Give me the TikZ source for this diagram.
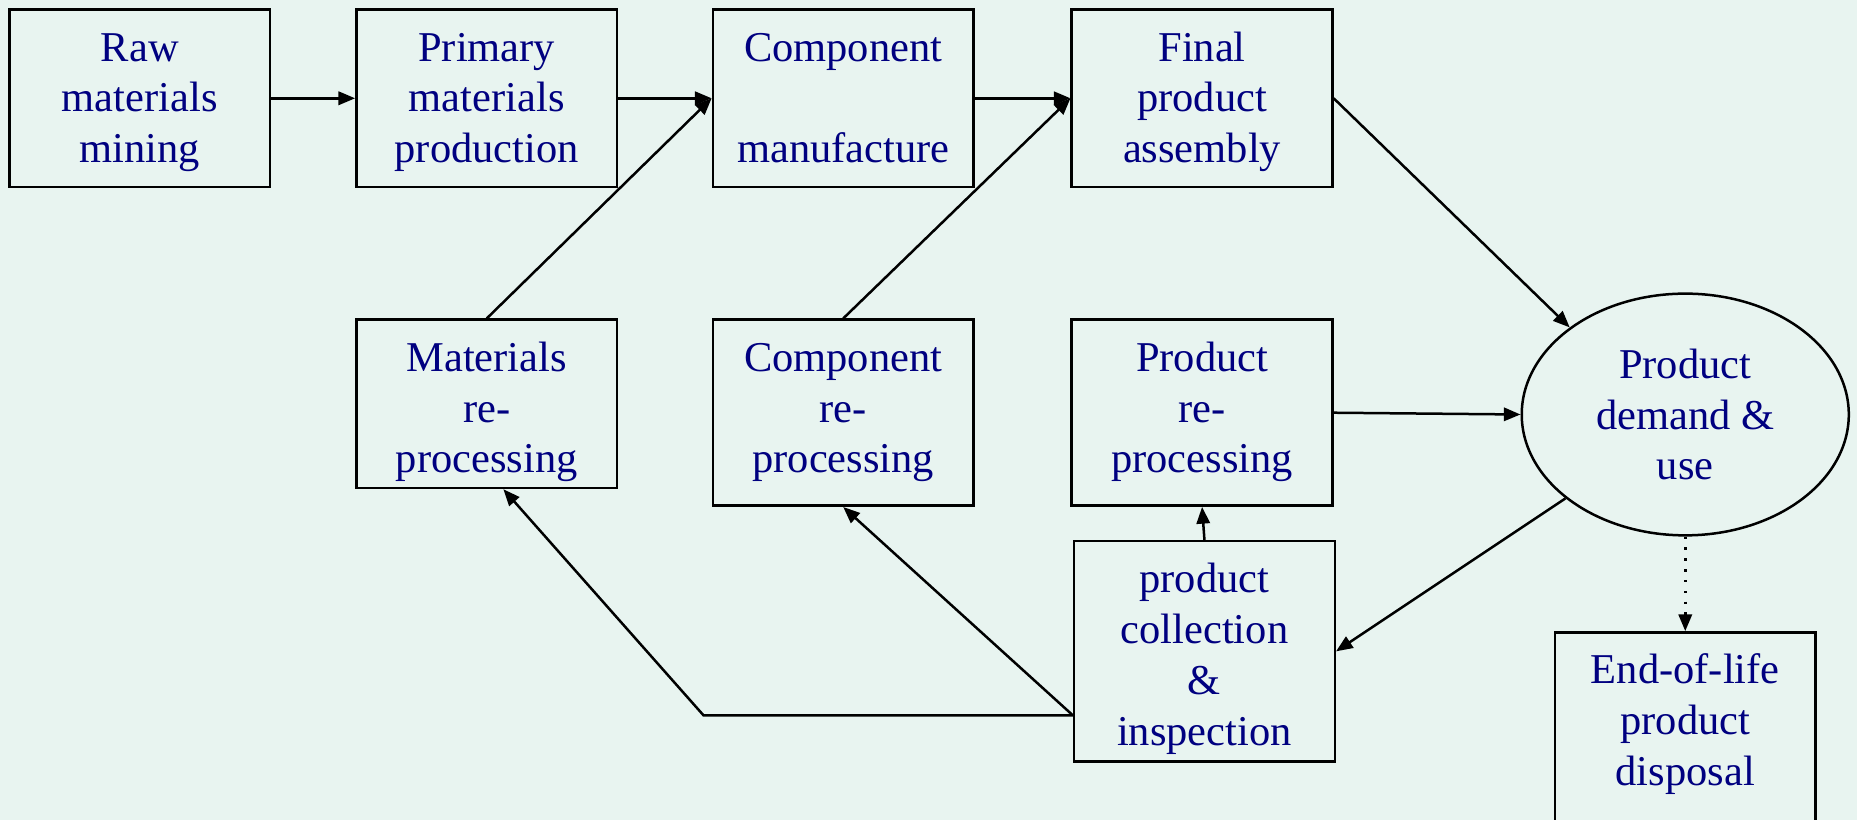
\documentclass[tikz,border=0pt]{standalone}
\usepackage{fontspec}
\setmainfont{Liberation Serif}
\usetikzlibrary{arrows.meta,shapes.geometric}

\definecolor{bgmint}{RGB}{232,244,240}
\definecolor{textnavy}{RGB}{0,0,128}
% text sits at the top of each box
\newcommand{\boxlines}[2]{\parbox[c][#1][t]{2.2cm}{\centering\rule{0pt}{12.4pt}#2}}

\begin{document}
\begin{tikzpicture}[x=0.01cm, y=-0.01cm]
	\useasboundingbox (0,0) rectangle (1568,692);
	\clip (0,0) rectangle (1568,692);
	\fill[bgmint] (0,0) rectangle (1568,692);
	\begin{scope}[every node/.style={rectangle,draw,line width=0.6pt,text=textnavy,align=center,
			minimum width=2.2cm,inner sep=0pt,font=\fontsize{10.2}{12.2}\selectfont}]
		\node (Raw materials) at (118,83) {\boxlines{1.5cm}{Raw\\materials\\mining}};
		\node (Primary materials) at (411,83) {\boxlines{1.5cm}{Primary\\materials\\production}};
		\node (Component manufacture) at (712,83) {\boxlines{1.5cm}{Component\\\mbox{}\\manufacture}};
		\node (Final assembly) at (1015,83) {\boxlines{1.5cm}{Final\\product\\assembly}};
			\node (Materials reprocessing) at (411,341) {\boxlines{1.42cm}{Materials\\re-\\processing}};
			\node (Component reprocessing) at (712,348.5) {\boxlines{1.57cm}{Component\\re-\\processing}};
			\node (Product reprocessing) at (1015,348.5) {\boxlines{1.57cm}{Product\\re-\\processing}};
			\node (Product collection) at (1017,550) {\boxlines{1.86cm}{product\\collection\\\&\\inspection}};
		\node[ellipse,minimum width=2.76cm,minimum height=2.04cm] (Product demand) at (1423,350) {Product\\demand \&\\use};
		\node (End of life) at (1423,616.5) {\boxlines{1.65cm}{End-of-life\\product\\disposal}};
	\end{scope}
	\coordinate (bend) at (594,604);
	\begin{scope}[>={Triangle[length=4pt,width=3.2pt]}, line width=0.6pt]
	\path [->] (Raw materials) edge (Primary materials);
	\path [->] (Primary materials) edge (Component manufacture);
	\path [->] (Component manufacture) edge (Final assembly);
	\path [->] (Final assembly.east) edge (Product demand.143);

	\path [->] (Materials reprocessing.north) edge (Component manufacture.west);
	\path [->] (Component reprocessing.north) edge (Final assembly.west);
	\path [->] (Product reprocessing.east) edge (Product demand.west);

	\path [->] (Product demand.215) edge (Product collection.east);
	\path [->] (Product collection.north) edge (Product reprocessing.south);
	\path [->] (Product collection.west |- bend) edge (Component reprocessing.south);
	\draw [->] (Product collection.west |- bend) -- (bend) -- ([xshift=0.14cm]Materials reprocessing.south);
	\path [->, dotted] (Product demand.south) edge (End of life.north);
	\end{scope}
\end{tikzpicture}
\end{document}
